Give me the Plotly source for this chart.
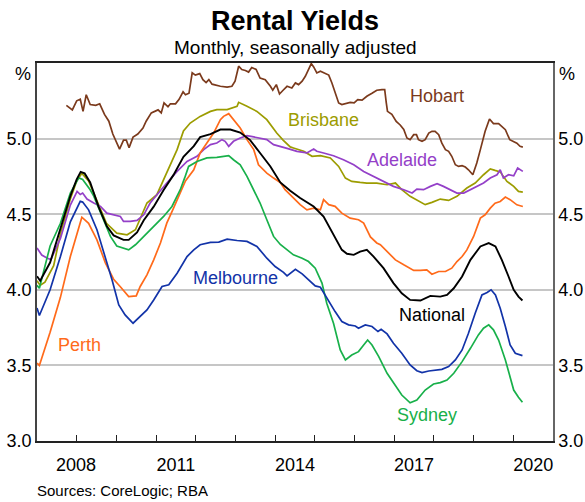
import plotly.graph_objects as go

# ---------------- data (decimal years, yield %) ----------------
hobart_t = [2008.74, 2008.89, 2009.0, 2009.09, 2009.16, 2009.24, 2009.34, 2009.48, 2009.58, 2009.70,
            2009.81, 2009.91, 2010.08, 2010.18, 2010.25, 2010.32, 2010.42, 2010.54, 2010.67, 2010.75,
            2010.88, 2011.05, 2011.13, 2011.2, 2011.3, 2011.36, 2011.49, 2011.58, 2011.68, 2011.74,
            2011.83, 2011.91, 2011.99, 2012.1, 2012.18, 2012.26, 2012.33, 2012.41, 2012.62, 2012.79,
            2012.91, 2012.99, 2013.08, 2013.16, 2013.25, 2013.33, 2013.41, 2013.52, 2013.62, 2013.75,
            2013.88, 2013.94, 2014.03, 2014.11, 2014.2, 2014.3, 2014.42, 2014.51, 2014.59, 2014.68,
            2014.76, 2014.84, 2014.91, 2014.97, 2015.05, 2015.14, 2015.22, 2015.35, 2015.43, 2015.51,
            2015.6, 2015.68, 2015.77, 2015.89, 2015.99, 2016.08, 2016.19, 2016.31, 2016.44, 2016.56,
            2016.69, 2016.76, 2016.8, 2016.83, 2016.94, 2017.05, 2017.15, 2017.24, 2017.32, 2017.4,
            2017.49, 2017.56, 2017.61, 2017.7, 2017.78, 2017.87, 2017.95, 2018.03, 2018.12, 2018.2,
            2018.29, 2018.37, 2018.45, 2018.54, 2018.62, 2018.71, 2018.79, 2018.87, 2018.98, 2019.08,
            2019.17, 2019.29, 2019.4, 2019.5, 2019.63, 2019.71, 2019.8, 2019.91, 2019.99, 2020.09,
            2020.17, 2020.24]
hobart_v = [5.22, 5.19, 5.25, 5.26, 5.18, 5.29, 5.225, 5.22, 5.23, 5.16,
            5.115, 5.03, 4.93, 4.99, 4.99, 4.94, 5.01, 5.03, 5.07, 5.115,
            5.17, 5.19, 5.17, 5.236, 5.21, 5.23, 5.23, 5.26, 5.31, 5.29,
            5.30, 5.435, 5.42, 5.43, 5.39, 5.37, 5.39, 5.36, 5.346, 5.34,
            5.346, 5.38, 5.479, 5.457, 5.45, 5.44, 5.47, 5.457, 5.40, 5.39,
            5.346, 5.32, 5.357, 5.295, 5.32, 5.346, 5.335, 5.368, 5.357, 5.38,
            5.412, 5.457, 5.496, 5.474, 5.434, 5.446, 5.434, 5.42, 5.368, 5.30,
            5.236, 5.225, 5.23, 5.24, 5.236, 5.258, 5.254, 5.28, 5.30, 5.32,
            5.324, 5.324, 5.236, 5.18, 5.16, 5.114, 5.09, 5.06, 5.004, 4.993,
            5.026, 5.026, 4.993, 4.982, 4.993, 5.037, 5.048, 5.048, 5.026, 4.97,
            4.927, 4.916, 4.883, 4.827, 4.816, 4.821, 4.812, 4.794, 4.761, 4.838,
            4.927, 5.048, 5.13, 5.099, 5.099, 5.081, 5.059, 4.993, 4.982, 4.97,
            4.949, 4.944]

brisbane_t = [2008.0, 2008.08, 2008.2, 2008.42, 2008.6, 2008.84, 2009.0, 2009.13, 2009.3, 2009.5,
              2009.75, 2010.01, 2010.27, 2010.48, 2010.77, 2011.02, 2011.27, 2011.53, 2011.69, 2011.86,
              2012.11, 2012.37, 2012.53, 2012.79, 2013.04, 2013.08, 2013.29, 2013.54, 2013.79, 2014.04,
              2014.2, 2014.38, 2014.46, 2014.72, 2014.93, 2015.14, 2015.39, 2015.6, 2015.77, 2015.93,
              2016.14, 2016.31, 2016.56, 2016.82, 2017.03, 2017.19, 2017.4, 2017.61, 2017.78, 2017.95,
              2018.16, 2018.37, 2018.58, 2018.83, 2019.04, 2019.25, 2019.42, 2019.54, 2019.67, 2019.84,
              2020.01, 2020.13, 2020.24]
brisbane_v = [4.06, 4.03, 4.05, 4.16, 4.38, 4.60, 4.72, 4.77, 4.72, 4.60,
              4.44, 4.375, 4.364, 4.397, 4.574, 4.629, 4.78, 4.927, 5.05, 5.103,
              5.147, 5.18, 5.192, 5.192, 5.214, 5.24, 5.214, 5.18, 5.125, 5.037,
              4.99, 4.945, 4.938, 4.916, 4.883, 4.887, 4.872, 4.816, 4.739, 4.717,
              4.71, 4.706, 4.706, 4.695, 4.706, 4.662, 4.618, 4.585, 4.563, 4.578,
              4.6, 4.591, 4.618, 4.673, 4.706, 4.761, 4.80, 4.79, 4.78, 4.717,
              4.684, 4.651, 4.646]

adelaide_t = [2008.0, 2008.12, 2008.25, 2008.35, 2008.59, 2008.84, 2009.01, 2009.09, 2009.15, 2009.26,
              2009.43, 2009.6, 2009.76, 2009.93, 2010.1, 2010.18, 2010.35, 2010.52, 2010.69, 2010.85,
              2011.02, 2011.27, 2011.53, 2011.78, 2012.03, 2012.2, 2012.37, 2012.53, 2012.66, 2012.74,
              2012.83, 2012.95, 2013.12, 2013.29, 2013.46, 2013.62, 2013.79, 2013.96, 2014.13, 2014.3,
              2014.55, 2014.8, 2014.97, 2015.05, 2015.22, 2015.47, 2015.72, 2015.98, 2016.23, 2016.48,
              2016.73, 2016.98, 2017.24, 2017.45, 2017.57, 2017.74, 2017.91, 2018.08, 2018.24, 2018.41,
              2018.58, 2018.75, 2018.92, 2019.08, 2019.25, 2019.42, 2019.59, 2019.67, 2019.75, 2019.88,
              2020.01, 2020.11, 2020.24]
adelaide_v = [4.276, 4.23, 4.21, 4.20, 4.34, 4.56, 4.651, 4.63, 4.64, 4.60,
              4.574, 4.552, 4.507, 4.496, 4.485, 4.452, 4.452, 4.459, 4.496, 4.574,
              4.629, 4.706, 4.783, 4.849, 4.883, 4.927, 4.96, 4.971, 4.993, 4.982,
              4.949, 4.982, 5.004, 5.02, 5.011, 5.004, 4.993, 4.96, 4.945, 4.935,
              4.916, 4.905, 4.931, 4.916, 4.905, 4.887, 4.86, 4.827, 4.783, 4.75,
              4.717, 4.684, 4.662, 4.64, 4.666, 4.662, 4.684, 4.702, 4.684, 4.662,
              4.64, 4.64, 4.662, 4.684, 4.706, 4.739, 4.761, 4.794, 4.739, 4.761,
              4.754, 4.805, 4.783]

perth_t = [2008.0, 2008.06, 2008.33, 2008.59, 2008.84, 2009.0, 2009.13, 2009.3, 2009.51, 2009.72,
           2009.93, 2010.1, 2010.31, 2010.5, 2010.6, 2010.77, 2010.94, 2011.11, 2011.27, 2011.44,
           2011.61, 2011.74, 2011.95, 2012.11, 2012.28, 2012.45, 2012.62, 2012.7, 2012.83, 2012.95,
           2013.12, 2013.29, 2013.46, 2013.58, 2013.79, 2013.96, 2014.13, 2014.25, 2014.46, 2014.63,
           2014.8, 2014.97, 2015.14, 2015.22, 2015.35, 2015.51, 2015.68, 2015.89, 2016.1, 2016.23,
           2016.4, 2016.56, 2016.65, 2016.82, 2017.03, 2017.24, 2017.49, 2017.66, 2017.82, 2017.95,
           2018.12, 2018.29, 2018.45, 2018.58, 2018.71, 2018.83, 2019.0, 2019.17, 2019.29, 2019.42,
           2019.54, 2019.67, 2019.8, 2019.92, 2020.09, 2020.24]
perth_v = [3.515, 3.50, 3.72, 3.95, 4.22, 4.36, 4.48, 4.44, 4.33, 4.18,
           4.07, 4.02, 3.955, 3.96, 4.022, 4.099, 4.198, 4.309, 4.441, 4.54,
           4.64, 4.72, 4.794, 4.905, 4.971, 5.037, 5.125, 5.147, 5.165, 5.125,
           5.07, 4.993, 4.927, 4.827, 4.772, 4.739, 4.71, 4.662, 4.607, 4.563,
           4.529, 4.54, 4.529, 4.596, 4.563, 4.552, 4.507, 4.474, 4.463, 4.441,
           4.35, 4.31, 4.298, 4.253, 4.198, 4.165, 4.128, 4.128, 4.132, 4.103,
           4.121, 4.121, 4.143, 4.187, 4.22, 4.264, 4.353, 4.474, 4.496, 4.54,
           4.573, 4.584, 4.613, 4.596, 4.562, 4.551]

sydney_t = [2008.0, 2008.06, 2008.33, 2008.59, 2008.84, 2009.05, 2009.15, 2009.34, 2009.43, 2009.6,
            2009.85, 2010.01, 2010.18, 2010.31, 2010.48, 2010.69, 2010.94, 2011.19, 2011.4, 2011.61,
            2011.72, 2011.82, 2012.03, 2012.28, 2012.53, 2012.83, 2012.95, 2013.12, 2013.29, 2013.46,
            2013.62, 2013.79, 2013.96, 2014.13, 2014.3, 2014.46, 2014.68, 2014.84, 2015.01, 2015.18,
            2015.3, 2015.47, 2015.64, 2015.77, 2015.93, 2016.1, 2016.23, 2016.33, 2016.44, 2016.61,
            2016.82, 2017.03, 2017.19, 2017.4, 2017.57, 2017.78, 2017.99, 2018.16, 2018.33, 2018.5,
            2018.71, 2018.92, 2019.12, 2019.25, 2019.38, 2019.5, 2019.63, 2019.8, 2019.92, 2020.01,
            2020.13, 2020.23]
sydney_v = [4.03, 4.01, 4.29, 4.44, 4.64, 4.74, 4.73, 4.662, 4.62, 4.507,
            4.353, 4.29, 4.275, 4.264, 4.298, 4.353, 4.419, 4.485, 4.551, 4.662,
            4.74, 4.816, 4.849, 4.872, 4.876, 4.887, 4.86, 4.827, 4.75, 4.662,
            4.574, 4.463, 4.353, 4.30, 4.264, 4.231, 4.209, 4.187, 4.143, 4.044,
            3.911, 3.779, 3.602, 3.536, 3.569, 3.591, 3.635, 3.668, 3.635, 3.558,
            3.448, 3.37, 3.304, 3.253, 3.271, 3.337, 3.377, 3.386, 3.403, 3.448,
            3.525, 3.613, 3.702, 3.746, 3.768, 3.735, 3.668, 3.536, 3.426, 3.337,
            3.289, 3.256]

melbourne_t = [2008.0, 2008.06, 2008.33, 2008.59, 2008.84, 2009.09, 2009.15, 2009.3, 2009.51, 2009.72,
               2009.89, 2010.06, 2010.22, 2010.42, 2010.6, 2010.77, 2010.94, 2011.15, 2011.32, 2011.53,
               2011.78, 2011.95, 2012.11, 2012.37, 2012.58, 2012.79, 2013.04, 2013.29, 2013.54, 2013.79,
               2014.0, 2014.21, 2014.3, 2014.51, 2014.68, 2014.84, 2015.01, 2015.14, 2015.3, 2015.51,
               2015.68, 2015.85, 2016.02, 2016.1, 2016.27, 2016.44, 2016.59, 2016.67, 2016.82, 2016.98,
               2017.19, 2017.4, 2017.57, 2017.7, 2017.87, 2018.03, 2018.2, 2018.37, 2018.54, 2018.71,
               2018.87, 2019.04, 2019.21, 2019.34, 2019.44, 2019.55, 2019.67, 2019.8, 2019.92, 2020.05,
               2020.23]
melbourne_v = [3.88, 3.83, 4.0, 4.22, 4.45, 4.585, 4.58, 4.529, 4.397, 4.22,
               4.066, 3.90, 3.834, 3.779, 3.823, 3.867, 3.933, 4.022, 4.033, 4.11,
               4.22, 4.264, 4.298, 4.313, 4.315, 4.335, 4.326, 4.32, 4.287, 4.209,
               4.154, 4.115, 4.092, 4.136, 4.105, 4.066, 4.026, 4.017, 3.944, 3.856,
               3.79, 3.768, 3.761, 3.746, 3.768, 3.757, 3.724, 3.739, 3.708, 3.646,
               3.58, 3.503, 3.465, 3.452, 3.463, 3.47, 3.474, 3.492, 3.536, 3.602,
               3.713, 3.845, 3.966, 3.982, 4.0, 3.966, 3.878, 3.757, 3.635, 3.58,
               3.565]

national_t = [2008.0, 2008.08, 2008.33, 2008.59, 2008.84, 2009.0, 2009.1, 2009.2, 2009.34, 2009.55,
              2009.76, 2009.93, 2010.18, 2010.31, 2010.52, 2010.69, 2010.94, 2011.19, 2011.44, 2011.69,
              2011.95, 2012.11, 2012.37, 2012.62, 2012.87, 2013.12, 2013.37, 2013.62, 2013.88, 2014.13,
              2014.38, 2014.63, 2014.97, 2015.22, 2015.47, 2015.68, 2015.81, 2015.98, 2016.14, 2016.31,
              2016.48, 2016.73, 2016.98, 2017.19, 2017.4, 2017.66, 2017.91, 2018.16, 2018.33, 2018.5,
              2018.71, 2018.92, 2019.17, 2019.38, 2019.55, 2019.71, 2019.88, 2020.01, 2020.13, 2020.23]
national_v = [4.09, 4.06, 4.18, 4.40, 4.62, 4.73, 4.78, 4.77, 4.71, 4.55,
              4.42, 4.36, 4.33, 4.33, 4.38, 4.46, 4.55, 4.66, 4.76, 4.88,
              4.95, 5.01, 5.03, 5.06, 5.06, 5.04, 4.99, 4.905, 4.816, 4.71,
              4.655, 4.607, 4.551, 4.485, 4.364, 4.264, 4.238, 4.231, 4.253, 4.264,
              4.22, 4.143, 4.044, 3.977, 3.933, 3.929, 3.96, 3.955, 3.966, 4.01,
              4.088, 4.198, 4.287, 4.309, 4.287, 4.198, 4.088, 4.0, 3.955, 3.929]

y_ticks = [3.0, 3.5, 4.0, 4.5, 5.0]
y_labels = ["3.0", "3.5", "4.0", "4.5", "5.0"]
year_ticks = list(range(2009, 2021))
x_label_pos = [2008.98, 2011.5, 2014.5, 2017.5, 2020.5]
x_labels = ["2008", "2011", "2014", "2017", "2020"]

# ---------------- styling ----------------
FONT = "Liberation Sans, Arial, Helvetica, sans-serif"
series = [
    ("Hobart", hobart_t, hobart_v, "#7b3a1c", "y"),
    ("Brisbane", brisbane_t, brisbane_v, "#9c9c00", "y"),
    ("Adelaide", adelaide_t, adelaide_v, "#9440c8", "y"),
    ("Perth", perth_t, perth_v, "#ff6a1a", "y"),
    ("Sydney", sydney_t, sydney_v, "#18b04a", "y"),
    ("Melbourne", melbourne_t, melbourne_v, "#1233a8", "y"),
    ("National", national_t, national_v, "#000000", "y2"),
]

# label placement (data coordinates)
label_pos = {
    "Hobart": (2018.08, 5.285),
    "Brisbane": (2015.21, 5.126),
    "Adelaide": (2017.19, 4.861),
    "National": (2017.95, 3.834),
    "Melbourne": (2012.99, 4.08),
    "Perth": (2009.07, 3.636),
    "Sydney": (2017.82, 3.17),
}

fig = go.Figure()
for name, t, v, color, ax in series:
    fig.add_trace(go.Scatter(x=t, y=v, mode="lines", name=name, yaxis=ax,
                             line=dict(color=color, width=1.7 if name != "National" else 1.9),
                             showlegend=False, hoverinfo="skip"))

annotations = []
for name, t, v, color, ax in series:
    lx, ly = label_pos[name]
    annotations.append(dict(x=lx, y=ly, xref="x", yref="y", text=name, showarrow=False,
                            font=dict(family=FONT, size=18, color=color),
                            xanchor="center", yanchor="middle"))

annotations += [
    dict(x=0.5, y=1.112, xref="paper", yref="paper", text="<b>Rental Yields</b>", showarrow=False,
         font=dict(family=FONT, size=27, color="black"), xanchor="center", yanchor="middle"),
    dict(x=0.5, y=1.040, xref="paper", yref="paper", text="Monthly, seasonally adjusted", showarrow=False,
         font=dict(family=FONT, size=19, color="black"), xanchor="center", yanchor="middle"),
    dict(x=0, y=0.971, xref="paper", yref="paper", text="%", showarrow=False, xshift=-4,
         font=dict(family=FONT, size=18, color="black"), xanchor="right", yanchor="middle"),
    dict(x=1, y=0.971, xref="paper", yref="paper", text="%", showarrow=False, xshift=4,
         font=dict(family=FONT, size=18, color="black"), xanchor="left", yanchor="middle"),
    dict(x=-0.004, y=-0.132, xref="paper", yref="paper", text="Sources: CoreLogic; RBA", showarrow=False,
         font=dict(family=FONT, size=15, color="black"), xanchor="left", yanchor="middle"),
]

fig.update_layout(
    width=585, height=502,
    margin=dict(l=37, r=32, t=63, b=61, pad=0, autoexpand=False),
    paper_bgcolor="white", plot_bgcolor="white",
    font=dict(family=FONT, size=18, color="black"),
    showlegend=False,
    annotations=annotations,
    xaxis=dict(range=[2008, 2021], tickmode="array", tickvals=x_label_pos, ticktext=x_labels,
               ticks="", showgrid=False, zeroline=False, showline=True, linecolor="#222",
               linewidth=1.5, mirror=True, ticklabelstandoff=7, automargin=False,
               tickfont=dict(family=FONT, size=18, color="black"),
               minor=dict(tickmode="array", tickvals=year_ticks, ticks="inside", ticklen=6,
                          tickcolor="#222", tickwidth=1.2, showgrid=False)),
    yaxis=dict(range=[3, 5.5], tickmode="array", tickvals=y_ticks, ticktext=y_labels, ticks="",
               showgrid=True, gridcolor="#c6c6c6", gridwidth=1.5, zeroline=False, automargin=False,
               showline=True, linecolor="#444", linewidth=1.5,
               tickfont=dict(family=FONT, size=18, color="black")),
    yaxis2=dict(range=[3, 5.5], overlaying="y", side="right", tickmode="array", tickvals=y_ticks,
                ticktext=y_labels, ticks="", showgrid=False, zeroline=False, automargin=False,
                showline=True, linecolor="#666", linewidth=1.5,
                tickfont=dict(family=FONT, size=18, color="black")),
)

fig.write_html("out.html", config={"displayModeBar": False},
               post_script="document.body.style.margin='0';document.body.style.padding='0';")
